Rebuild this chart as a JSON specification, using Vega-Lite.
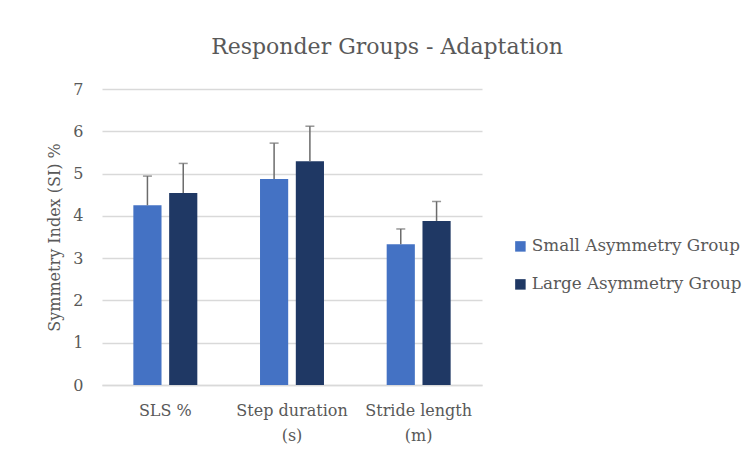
{
  "$schema": "https://vega.github.io/schema/vega-lite/v6.json",
  "width": 380,
  "height": 296,
  "padding": {"left": 46, "top": 36, "right": 5, "bottom": 5},
  "background": "white",
  "title": {
    "text": "Responder Groups - Adaptation",
    "fontSize": 22,
    "font": "DejaVu Serif",
    "fontWeight": "normal",
    "color": "#595959",
    "anchor": "middle",
    "frame": "group",
    "dx": 95,
    "offset": 22
  },
  "config": {
    "view": {"stroke": null},
    "font": "DejaVu Serif"
  },
  "data": {
    "values": [
      {"metric": "SLS %", "group": "Small Asymmetry Group", "value": 4.25, "upper": 4.94},
      {"metric": "SLS %", "group": "Large Asymmetry Group", "value": 4.54, "upper": 5.24},
      {"metric": "Step duration (s)", "group": "Small Asymmetry Group", "value": 4.87, "upper": 5.72},
      {"metric": "Step duration (s)", "group": "Large Asymmetry Group", "value": 5.29, "upper": 6.12},
      {"metric": "Stride length (m)", "group": "Small Asymmetry Group", "value": 3.33, "upper": 3.69},
      {"metric": "Stride length (m)", "group": "Large Asymmetry Group", "value": 3.88, "upper": 4.34}
    ]
  },
  "encoding": {
    "x": {
      "field": "metric",
      "type": "nominal",
      "sort": ["SLS %", "Step duration (s)", "Stride length (m)"],
      "scale": {"paddingInner": 0.495, "paddingOuter": 0.2475},
      "axis": {
        "title": null,
        "labelAngle": 0,
        "labelFontSize": 16,
        "labelColor": "#595959",
        "labelPadding": 17,
        "labelLineHeight": 25,
        "labelLimit": 200,
        "ticks": false,
        "domainColor": "#d9d9d9",
        "domainWidth": 1.5,
        "labelExpr": "indexof(datum.label, ' (') > 0 ? [substring(datum.label, 0, indexof(datum.label, ' (')), substring(datum.label, indexof(datum.label, ' (') + 1)] : datum.label"
      }
    },
    "xOffset": {
      "field": "group",
      "type": "nominal",
      "sort": ["Small Asymmetry Group", "Large Asymmetry Group"],
      "scale": {"paddingInner": 0.213, "paddingOuter": 0}
    }
  },
  "layer": [
    {
      "mark": {"type": "bar"},
      "encoding": {
        "y": {
          "field": "value",
          "type": "quantitative",
          "scale": {"domain": [0, 7]},
          "axis": {
            "title": "Symmetry Index (SI) %",
            "titleFontSize": 16,
            "titleFontWeight": "normal",
            "titleColor": "#595959",
            "titlePadding": 10,
            "labelFontSize": 16,
            "labelColor": "#595959",
            "labelPadding": 19,
            "tickCount": 7,
            "ticks": false,
            "domain": false,
            "gridColor": "#d9d9d9",
            "gridWidth": 1.5
          }
        },
        "color": {
          "field": "group",
          "type": "nominal",
          "sort": ["Small Asymmetry Group", "Large Asymmetry Group"],
          "scale": {"range": ["#4472C4", "#1F3864"]},
          "legend": {
            "title": null,
            "orient": "none",
            "legendX": 410,
            "legendY": 149,
            "symbolType": "square",
            "symbolSize": 110,
            "symbolStrokeWidth": 0,
            "labelFontSize": 16.8,
            "labelLimit": 300,
            "labelColor": "#595959",
            "labelOffset": 3,
            "rowPadding": 20
          }
        }
      }
    },
    {
      "mark": {"type": "rule", "color": "#6b6b6b", "strokeWidth": 1.5},
      "encoding": {
        "y": {"field": "value", "type": "quantitative"},
        "y2": {"field": "upper"}
      }
    },
    {
      "mark": {"type": "tick", "color": "#6b6b6b", "thickness": 1.5, "size": 9, "orient": "horizontal"},
      "encoding": {
        "y": {"field": "upper", "type": "quantitative"}
      }
    }
  ]
}
